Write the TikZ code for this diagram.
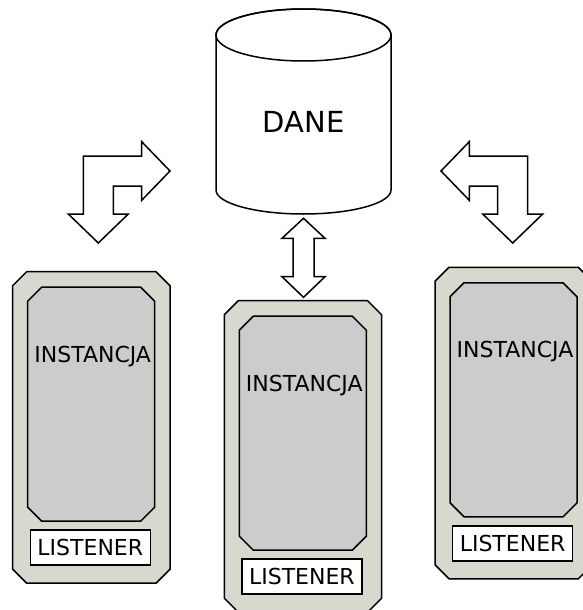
\documentclass[tikz,border=0pt]{standalone}
\usepackage{fontspec}
\setmainfont{DejaVu Sans}
\usepackage{tikz}
\usetikzlibrary{positioning}

\definecolor{obudowa}{RGB}{216,216,206}
\definecolor{srodek}{RGB}{204,204,204}

\tikzset{
  ramka/.style={draw=black, line width=1.5pt, line join=miter},
  blok/.style={ramka, fill=white},
  napis/.style={font=\fontsize{22}{26}\selectfont, inner sep=0pt},
  sluchacz/.style={ramka, fill=white, font=\fontsize{22}{26}\selectfont,
                   minimum width=120pt, minimum height=35pt, inner sep=0pt},
  instancja/.pic={
    \draw[ramka, fill=obudowa] (14,0) -- (143.3,0) -- (157.3,14) -- (157.3,297.5)
        -- (143.3,311.5) -- (14,311.5) -- (0,297.5) -- (0,14) -- cycle;
    \draw[ramka, fill=srodek] (29,15.5) -- (128,15.5) -- (142,29.5) -- (142,235.5)
        -- (128,249.5) -- (29,249.5) -- (15,235.5) -- (15,29.5) -- cycle;
    \node[napis, anchor=base] (-inst) at (80,90.5) {INSTANCJA};
    \node[sluchacz] (-lst) at (77.6,276) {LISTENER};
  },
  strzalka/.pic={
    \draw[blok] (86.7,15) -- (58.4,-14.3) -- (58.4,0) -- (0,0) -- (0,58) -- (-15,58)
        -- (15,87) -- (45,58) -- (30,58) -- (30,30) -- (58.4,30) -- (58.4,44.3) -- cycle;
  },
}

\begin{document}
\begin{tikzpicture}[x=1pt, y=-1pt]
  \useasboundingbox (0,0) rectangle (583,610);
  \clip (0,0) rectangle (583,610);

  % baza danych
  \draw[blok] (216,35) -- (216,190) arc[start angle=180, end angle=0, x radius=87.5, y radius=24]
      -- (391,35) arc[start angle=0, end angle=-180, x radius=87.5, y radius=26] -- cycle;
  \draw[ramka] (303.5,35) ellipse[x radius=87.5, y radius=26];
  \node[napis, font=\fontsize{29}{34}\selectfont, anchor=base] (dane) at (303.5,132.3) {DANE};

  % strzalki
  \pic at (83.3,156) {strzalka};
  \pic[xscale=-1] at (527.7,156) {strzalka};
  \draw[blok] (303.5,218.3) -- (325,238.3) -- (314,238.3) -- (314,276.7) -- (325,276.7)
      -- (303.5,297.3) -- (282,276.7) -- (293,276.7) -- (293,238.3) -- (282,238.3) -- cycle;

  % instancje
  \pic (lewa) at (12.7,271.7) {instancja};
  \pic (mid) at (224.3,300.7) {instancja};
  \pic (prawa) at (435,267.3) {instancja};
\end{tikzpicture}
\end{document}
